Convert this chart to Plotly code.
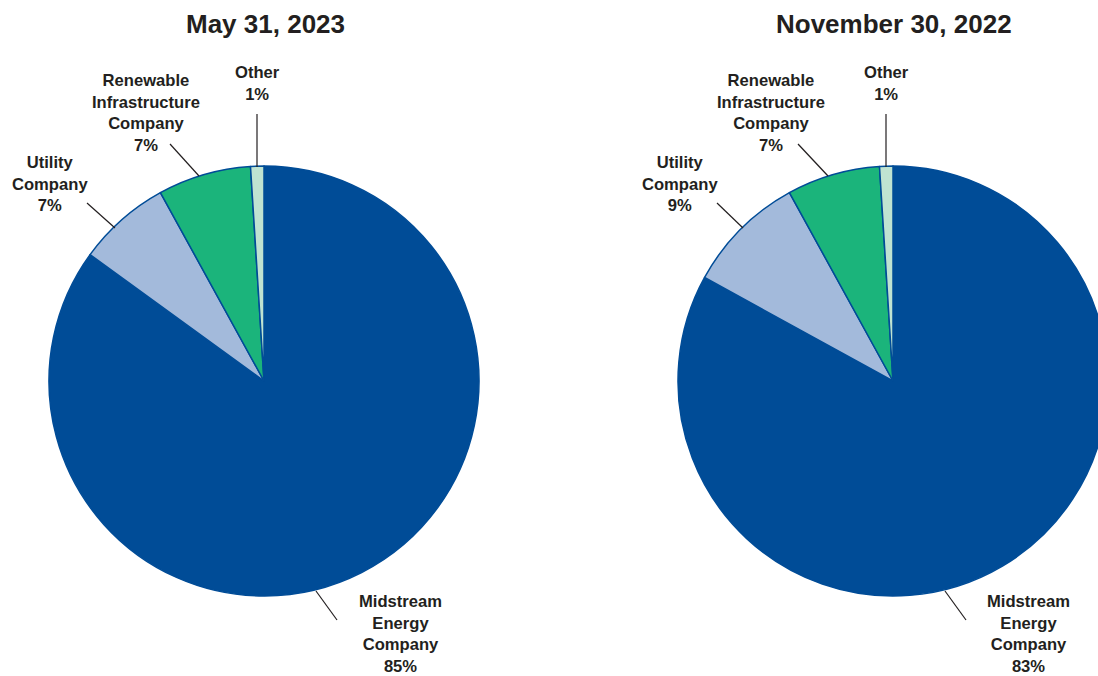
import plotly.graph_objects as go

# ---------------- data ----------------
categories = ["Midstream Energy Company", "Utility Company",
              "Renewable Infrastructure Company", "Other"]
may_2023 = [85, 7, 7, 1]
nov_2022 = [83, 9, 7, 1]
titles = ["May 31, 2023", "November 30, 2022"]
label_names = ["Midstream<br>Energy<br>Company", "Utility<br>Company",
               "Renewable<br>Infrastructure<br>Company", "Other"]
colors = ["#004C97", "#A3BADB", "#1BB47B", "#BFE3D1"]

# ---------------- layout constants (pixels) ----------------
W, H = 1112, 676
R = 215
centers = [(264, 381), (893, 381)]
TEXT = "#231F20"
FONT = "Liberation Sans, Arial, sans-serif"

def px(x, y):
    return x / W, 1 - y / H

# label block centres relative to each pie centre (dx, dy)
label_offsets = [(136, 253), (-214, -197), (-118, -268), (-7, -297)]
label_offsets_r = [(135, 253), (-213, -197), (-122, -268), (-7, -297)]
# leader lines relative to pie centre: (x0,y0,x1,y1)
leaders = [
    [(52, 210, 73, 239), (-177, -178, -149, -153), (-94, -237, -65, -205), (-7, -267, -7, -214)],
    [(52, 210, 73, 239), (-176, -178, -150, -153), (-95, -237, -65, -205), (-7, -267, -7, -214)],
]

fig = go.Figure()
for i, (vals, (cx, cy)) in enumerate(zip([may_2023, nov_2022], centers)):
    x0, _ = px(cx - R, 0)
    x1, _ = px(cx + R, 0)
    _, y0 = px(0, cy + R)
    _, y1 = px(0, cy - R)
    fig.add_trace(go.Pie(
        labels=categories, values=vals, sort=False, direction="clockwise",
        rotation=0, textinfo="none", hoverinfo="label+percent",
        marker=dict(colors=colors, line=dict(color="#004C97", width=1.5)),
        domain=dict(x=[x0, x1], y=[y0, y1]), showlegend=False,
    ))
    # title
    tx, ty = px(cx + 1, 24)
    fig.add_annotation(x=tx, y=ty, xref="paper", yref="paper", text=titles[i],
                       showarrow=False, xanchor="center", yanchor="middle",
                       font=dict(family=FONT, size=26, color=TEXT, weight="bold"))
    offs = label_offsets if i == 0 else label_offsets_r
    for name, v, (dx, dy) in zip(label_names, vals, offs):
        ax, ay = px(cx + dx, cy + dy)
        fig.add_annotation(x=ax, y=ay, xref="paper", yref="paper",
                           text=f"{name}<br>{v}%", showarrow=False,
                           xanchor="center", yanchor="middle", align="center",
                           font=dict(family=FONT, size=16.6, color=TEXT, weight="bold"))
    for (lx0, ly0, lx1, ly1) in leaders[i]:
        p0 = px(cx + lx0, cy + ly0)
        p1 = px(cx + lx1, cy + ly1)
        fig.add_shape(type="line", xref="paper", yref="paper",
                      x0=p0[0], y0=p0[1], x1=p1[0], y1=p1[1],
                      line=dict(color=TEXT, width=1.2))

fig.update_layout(width=W, height=H, margin=dict(l=0, r=0, t=0, b=0),
                  paper_bgcolor="white", plot_bgcolor="white")

fig.write_html("out.html", config={"displayModeBar": False},
               post_script="document.body.style.margin='0';document.body.style.overflow='hidden';")
